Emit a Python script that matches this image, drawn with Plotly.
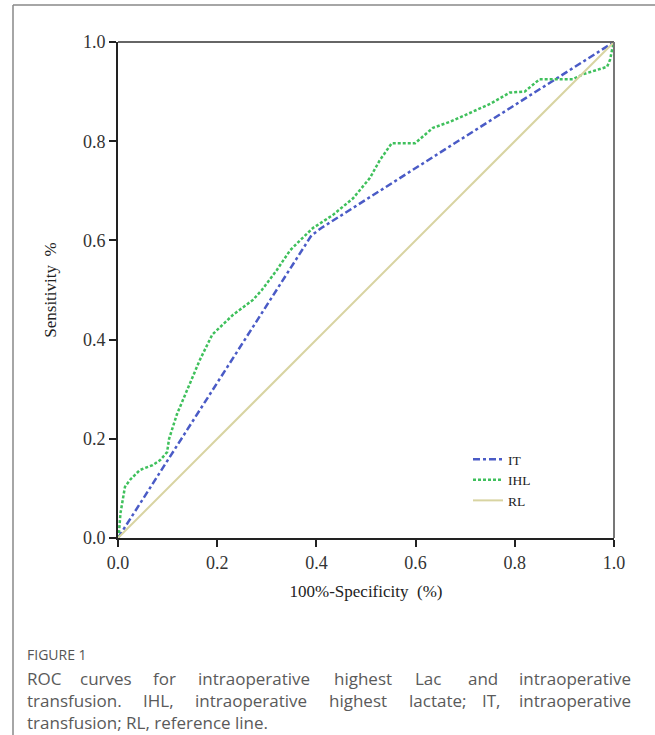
import plotly.graph_objects as go

# ---- data ----
it_fpr = [0.0, 0.39, 0.41, 1.0]
it_tpr = [0.0, 0.61, 0.625, 1.0]

ihl_fpr = [0.0, 0.002, 0.005, 0.014, 0.024, 0.044, 0.07, 0.085, 0.099, 0.103, 0.119, 0.139,
           0.165, 0.19, 0.232, 0.272, 0.29, 0.32, 0.347, 0.367, 0.393, 0.433, 0.474, 0.508,
           0.528, 0.552, 0.599, 0.635, 0.669, 0.75, 0.79, 0.82, 0.85, 0.917, 0.938, 0.986,
           0.992, 0.996, 1.0]
ihl_tpr = [0.0, 0.012, 0.05, 0.103, 0.117, 0.137, 0.147, 0.157, 0.173, 0.20, 0.25, 0.298,
           0.359, 0.41, 0.45, 0.48, 0.50, 0.54, 0.58, 0.60, 0.625, 0.651, 0.685, 0.726,
           0.762, 0.796, 0.796, 0.827, 0.839, 0.875, 0.898, 0.90, 0.925, 0.925, 0.935, 0.95,
           0.964, 0.984, 1.0]

rl_x = [0.0, 1.0]
rl_y = [0.0, 1.0]

tick_vals = [0.0, 0.2, 0.4, 0.6, 0.8, 1.0]
tick_text = ["0.0", "0.2", "0.4", "0.6", "0.8", "1.0"]

caption_title = "FIGURE 1"
caption_lines = [
    "ROC curves for intraoperative highest Lac and intraoperative",
    "transfusion. IHL, intraoperative highest lactate; IT, intraoperative",
    "transfusion; RL, reference line.",
]

# ---- layout helpers ----
W, H = 655, 735
L, R, T, B = 118, 614, 42, 538


def px(xp):
    return (xp - L) / (R - L)


def py(yp):
    return (B - yp) / (B - T)


fig = go.Figure()
fig.add_trace(go.Scatter(x=it_fpr, y=it_tpr, mode="lines", name="IT",
                         line=dict(color="#4a5bc6", width=2.5, dash="7px,3px,3px,3px")))
fig.add_trace(go.Scatter(x=ihl_fpr, y=ihl_tpr, mode="lines", name="IHL",
                         line=dict(color="#3fc05c", width=2.5, dash="3px,2px")))
fig.add_trace(go.Scatter(x=rl_x, y=rl_y, mode="lines", name="RL",
                         line=dict(color="#d8d4a2", width=2)))

serif = "Liberation Serif, Times New Roman, serif"

fig.update_layout(
    width=W, height=H,
    margin=dict(l=L, r=W - R, t=T, b=H - B, autoexpand=False),
    paper_bgcolor="white", plot_bgcolor="white",
    showlegend=True,
    legend=dict(x=px(468), y=py(444), xanchor="left", yanchor="top",
                bgcolor="rgba(0,0,0,0)", font=dict(family=serif, size=13.5, color="#222"),
                itemwidth=30, tracegroupgap=0),
    xaxis=dict(range=[0, 1], tickvals=tick_vals, ticktext=tick_text, showgrid=False,
               zeroline=False, showline=True, linecolor="#222", linewidth=2,
               ticks="outside", ticklen=7, tickwidth=2, tickcolor="#222", automargin=False,
               tickfont=dict(family=serif, size=18, color="#333"),
               title=dict(text="100%-Specificity  (%)", font=dict(family=serif, size=17, color="#222"),
                          standoff=14)),
    yaxis=dict(range=[0, 1], tickvals=tick_vals, ticktext=tick_text, showgrid=False,
               zeroline=False, showline=True, linecolor="#222", linewidth=2,
               ticks="outside", ticklen=7, tickwidth=2, tickcolor="#222", automargin=False,
               tickfont=dict(family=serif, size=18, color="#333"),
               title=dict(text="Sensitivity  %", font=dict(family=serif, size=17, color="#222"),
                          standoff=22)),
)

# frame top/right
fig.add_shape(type="line", xref="paper", yref="paper", x0=0, x1=1, y0=1, y1=1,
              line=dict(color="#666", width=2))
fig.add_shape(type="line", xref="paper", yref="paper", x0=1, x1=1, y0=0, y1=1,
              line=dict(color="#777", width=2))
# outer figure border (top and left)
fig.add_shape(type="line", xref="paper", yref="paper", x0=px(13), x1=px(660), y0=py(5), y1=py(5),
              line=dict(color="#888", width=1.5))
fig.add_shape(type="line", xref="paper", yref="paper", x0=px(13), x1=px(13), y0=py(5), y1=py(740),
              line=dict(color="#888", width=1.5))

cap_font = "Open Sans, Noto Sans, sans-serif"
fig.add_annotation(xref="paper", yref="paper", x=px(25), y=py(654), xanchor="left", yanchor="middle",
                   text=caption_title, showarrow=False,
                   font=dict(family=cap_font, size=14, color="#555"))

# justified lines: word start positions (px)
word_pos = [
    [25, 78, 151, 196, 332, 413, 466, 633],
    [25, 141, 193, 327, 407, 480, 633],
]
line_y = [678, 700, 722]
for i, line in enumerate(caption_lines):
    if i < len(word_pos):
        words = line.split(" ")
        n = len(words)
        for k, (w, xp) in enumerate(zip(words, word_pos[i])):
            fig.add_annotation(xref="paper", yref="paper", x=px(xp), y=py(line_y[i]),
                               xanchor="right" if k == n - 1 else "left", yanchor="middle",
                               text=w, showarrow=False,
                               font=dict(family=cap_font, size=17, color="#5a5a5a"))
    else:
        fig.add_annotation(xref="paper", yref="paper", x=px(25), y=py(line_y[i]),
                           xanchor="left", yanchor="middle", text=line, showarrow=False,
                           font=dict(family=cap_font, size=17, color="#5a5a5a"))

fig.write_html("out.html", config={"displayModeBar": False},
               post_script="document.body.style.margin='0';")
